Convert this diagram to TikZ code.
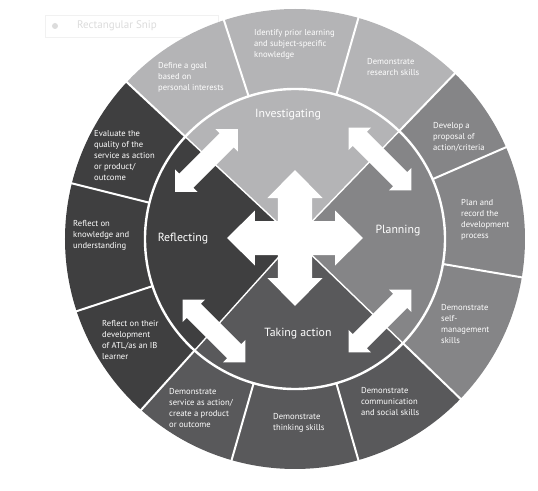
\documentclass[tikz,border=0pt]{standalone}
\usepackage{fontspec}
\setmainfont{PT Sans}

\definecolor{invcol}{HTML}{B4B4B6}
\definecolor{placol}{HTML}{858587}
\definecolor{actcol}{HTML}{59595B}
\definecolor{refcol}{HTML}{3F3F40}
\definecolor{snipline}{HTML}{F1F1F1}
\definecolor{sniptext}{HTML}{DCDCDC}

% two-headed arrow: centre, angle, half length, head half width, head length, shaft half width
\newcommand{\twoway}[6]{%
  \fill[white, shift={#1}, rotate=#2]
    (#3,0) -- ({#3-#5},#4) -- ({#3-#5},#6) -- ({-#3+#5},#6) -- ({-#3+#5},#4)
    -- (-#3,0) -- ({-#3+#5},-#4) -- ({-#3+#5},-#6) -- ({#3-#5},-#6) -- ({#3-#5},-#4) -- cycle;}

\begin{document}
\begin{tikzpicture}[
    x=1pt, y=1pt,
    ringtext/.style={anchor=north west, inner sep=0pt, align=left, text=white,
                     font=\fontsize{8.6}{11}\selectfont},
    phase/.style={text=white, inner sep=0pt, font=\fontsize{11.8}{13}\selectfont},
    ringline/.style={white, line width=2pt},
    quadline/.style={white, line width=1.4pt}
]
    \useasboundingbox (-295,-251) rectangle (243,239);

    % snip label left over at the top
    \draw[snipline, fill=white] (-250,224) rectangle (-77,202);
    \fill[sniptext] (-240,213) circle[radius=3];
    \node[text=sniptext, anchor=west, inner sep=0pt, font=\fontsize{11}{13}\selectfont] (snip) at (-218,213) {Rectangular Snip};

    % four phases
    \fill[invcol] (0,0) -- (46:230) arc[start angle=46, end angle=137, radius=230] -- cycle;
    \fill[refcol] (0,0) -- (137:230) arc[start angle=137, end angle=228, radius=230] -- cycle;
    \fill[actcol] (0,0) -- (228:230) arc[start angle=228, end angle=316, radius=230] -- cycle;
    \fill[placol] (0,0) -- (-44:230) arc[start angle=-44, end angle=46, radius=230] -- cycle;

    % dividers
    \foreach \a in {46,137,228,316} {
        \draw[quadline] (0,0) -- (\a:150);
        \draw[ringline] (\a:150) -- (\a:231);
    }
    \foreach \a in {23.5,-9.6,-74,-106,198.3,166,108,74}
        \draw[ringline] (\a:150) -- (\a:231);
    \draw[ringline, line width=2.4pt] (0,0) circle[radius=150];

    % arrows
    \twoway{(0,1)}{0}{68}{27.5}{28}{17}
    \twoway{(0,1)}{90}{68}{27.5}{28}{17}
    \twoway{(-88.5,78.5)}{45}{44.5}{16}{16}{10}
    \twoway{(85,80)}{-45}{44.5}{16}{16}{10}
    \twoway{(-81,-92)}{-45}{44.5}{16}{16}{10}
    \twoway{(85,-82)}{45}{44.5}{16}{16}{10}

    % phase names
    \node[phase] (investigating) at (-7,124) {Investigating};
    \node[phase] (planning) at (103,8) {Planning};
    \node[phase] (action) at (3,-95) {Taking action};
    \node[phase] (reflecting) at (-112,0) {Reflecting};

    % outer ring
    \node[ringtext] (goal) at (-137,176.5) {Define a goal\\based on\\personal interests};
    \node[ringtext] (prior) at (-41,209.5) {Identify prior learning\\and subject-specific\\knowledge};
    \node[ringtext] (research) at (72,180.5) {Demonstrate\\research skills};
    \node[ringtext] (proposal) at (138,116.5) {Develop a\\proposal of\\action/criteria};
    \node[ringtext] (record) at (166,39.5) {Plan and\\record the\\development\\process};
    \node[ringtext] (selfman) at (146,-65.5) {Demonstrate\\self-\\management\\skills};
    \node[ringtext] (social) at (66,-148.5) {Demonstrate\\communication\\and social skills};
    \node[ringtext] (thinking) at (-22,-174.5) {Demonstrate\\thinking skills};
    \node[ringtext] (service) at (-126,-149.5) {Demonstrate\\service as action/\\create a product\\or outcome};
    \node[ringtext] (atl) at (-193,-81.5) {Reflect on their\\development\\of ATL/as an IB\\learner};
    \node[ringtext] (knowledge) at (-222,18.5) {Reflect on\\knowledge and\\understanding};
    \node[ringtext] (evaluate) at (-201,108.5) {Evaluate the\\quality of the\\service as action\\or product/\\outcome};
\end{tikzpicture}
\end{document}
